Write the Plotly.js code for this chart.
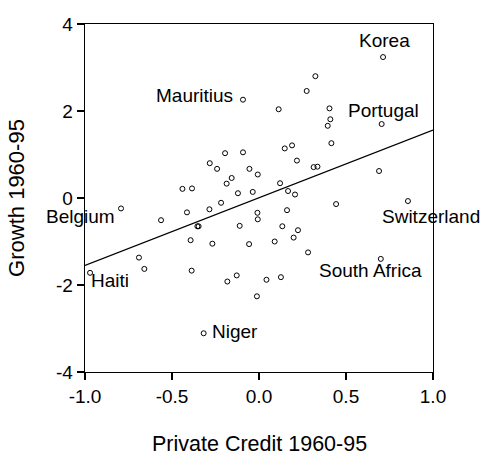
<!DOCTYPE html>
<html>
<head>
<meta charset="utf-8">
<script src="https://cdn.plot.ly/plotly-3.0.1.min.js"></script>
<style>html,body{margin:0;padding:0;background:#fff;}#chart{width:482px;height:456px;}</style>
</head>
<body>
<div id="chart"></div>
<script>
// Unlabelled countries: private credit (x) and growth (y), 1960-95
const otherCredit = [-0.195,-0.092,-0.283,-0.241,-0.055,-0.007,-0.157,-0.186,-0.44,-0.385,
  -0.121,-0.036,-0.218,-0.285,-0.414,-0.009,-0.007,-0.563,-0.354,-0.347,
  -0.111,-0.393,-0.268,-0.057,-0.69,-0.659,-0.387,-0.128,-0.182,-0.012,
  0.121,0.167,0.207,0.443,0.69,0.161,0.134,0.224,0.199,0.09,
  0.282,0.043,0.126,0.324,0.274,0.113,0.405,0.41,0.395,0.416,
  0.148,0.19,0.218,0.314,0.336];
const otherGrowth = [1.03,1.05,0.80,0.67,0.67,0.54,0.46,0.33,0.21,0.22,
  0.11,0.14,-0.11,-0.26,-0.33,-0.34,-0.49,-0.51,-0.65,-0.65,
  -0.64,-0.97,-1.05,-1.06,-1.37,-1.63,-1.67,-1.78,-1.92,-2.26,
  0.34,0.16,0.08,-0.14,0.62,-0.28,-0.65,-0.74,-0.91,-1.00,
  -1.25,-1.88,-1.82,2.80,2.46,2.04,2.06,1.81,1.66,1.26,
  1.14,1.21,0.86,0.71,0.72];

// Labelled countries
const labeledCountries = ['Korea','Mauritius','Portugal','Switzerland','South Africa','Niger','Haiti','Belgium'];
const labeledCredit = [0.713,-0.092,0.705,0.856,0.70,-0.318,-0.971,-0.793];
const labeledGrowth = [3.24,2.26,1.70,-0.07,-1.40,-3.11,-1.72,-0.24];

// Fitted regression line
const fitCredit = [-1.0, 1.0];
const fitGrowth = [-1.55, 1.56];

// Tick labels
const xTickVals = [-1.0,-0.5,0.0,0.5,1.0];
const xTickText = ['-1.0','-0.5','0.0','0.5','1.0'];
const yTickVals = [-4,-2,0,2,4];
const yTickText = ['-4','-2','0','2','4'];

// Axis titles
const xTitle = 'Private Credit 1960-95';
const yTitle = 'Growth 1960-95';

// label placement (pixel offsets from the point) and anchors
const labelStyle = {
  'Korea':        {xanchor:'center', xshift: 1,   yshift: 17},
  'Mauritius':    {xanchor:'right',  xshift: -9,  yshift: 4},
  'Portugal':     {xanchor:'center', xshift: 1.5, yshift: 14},
  'Switzerland':  {xanchor:'left',   xshift: -27, yshift: -15},
  'South Africa': {xanchor:'center', xshift: -10, yshift: -12},
  'Niger':        {xanchor:'left',   xshift: 7,   yshift: 2},
  'Haiti':        {xanchor:'left',   xshift: -0.5,yshift: -8},
  'Belgium':      {xanchor:'right',  xshift: -5,  yshift: -8}
};

const fontFam = '"Liberation Sans", Arial, Helvetica, sans-serif';
const markerStyle = {symbol:'circle-open', size:5, color:'#000', line:{width:1, color:'#000'}};

const traces = [
  {x: fitCredit, y: fitGrowth, mode:'lines', line:{color:'#000', width:1.3}, hoverinfo:'skip', showlegend:false},
  {x: otherCredit, y: otherGrowth, mode:'markers', marker: markerStyle, showlegend:false},
  {x: labeledCredit, y: labeledGrowth, mode:'markers', marker: markerStyle, text: labeledCountries, showlegend:false}
];

const annotations = labeledCountries.map((name, i) => Object.assign({
  x: labeledCredit[i], y: labeledGrowth[i], xref:'x', yref:'y',
  text: name, showarrow:false, yanchor:'middle', borderpad:0,
  font:{family: fontFam, size:19, color:'#000'}
}, labelStyle[name]));

// x-axis title placed below the tick labels
annotations.push({
  x:0.5, xref:'paper', y:0, yref:'paper', yanchor:'middle', xanchor:'center',
  yshift:-72, text:xTitle, showarrow:false, borderpad:0,
  font:{family: fontFam, size:21.5, color:'#000'}
});

const axisCommon = {
  showgrid:false, zeroline:false, showline:true, linecolor:'#000', linewidth:1.3,
  mirror:true, ticks:'outside', ticklen:7, tickwidth:1.2, tickcolor:'#000',
  tickfont:{family: fontFam, size:19, color:'#000'}, fixedrange:true
};

const layout = {
  width:482, height:456,
  margin:{l:85, r:48.5, t:24, b:84},
  paper_bgcolor:'#fff', plot_bgcolor:'#fff',
  font:{family: fontFam, color:'#000'},
  xaxis: Object.assign({}, axisCommon, {
    range:[-1,1], tickmode:'array', tickvals:xTickVals, ticktext:xTickText
  }),
  yaxis: Object.assign({}, axisCommon, {
    range:[-4,4], tickmode:'array', tickvals:yTickVals, ticktext:yTickText,
    title:{text:yTitle, font:{family: fontFam, size:22, color:'#000'}, standoff:25}
  }),
  annotations: annotations,
  showlegend:false
};

Plotly.newPlot('chart', traces, layout, {staticPlot:true, displayModeBar:false});
</script>
</body>
</html>
